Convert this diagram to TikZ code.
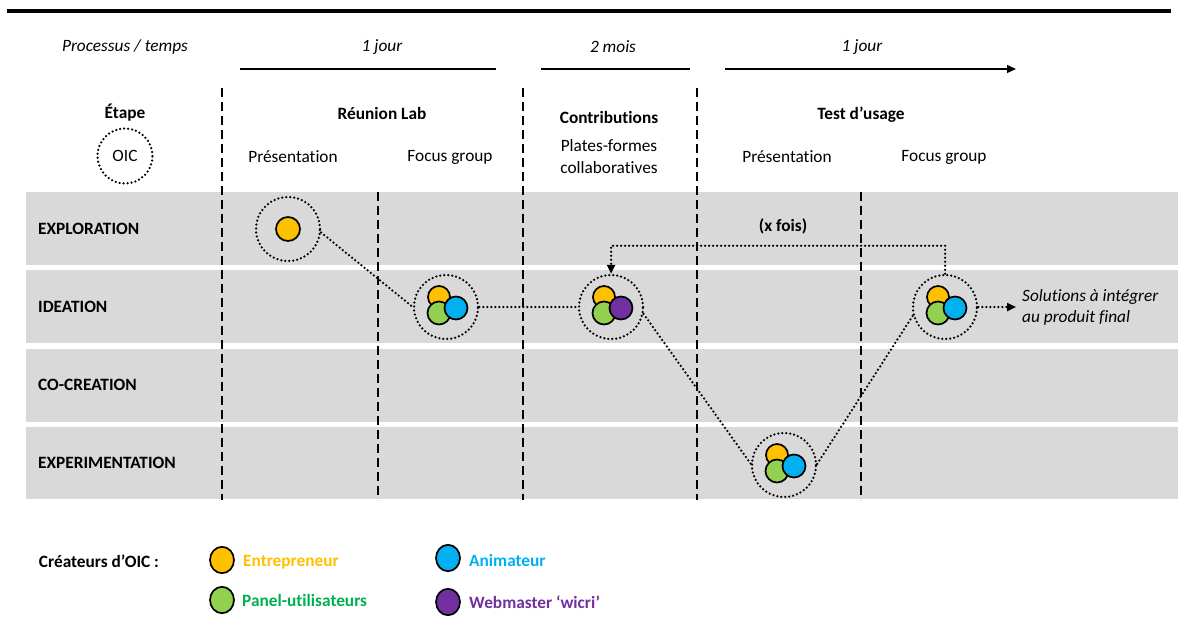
\documentclass[tikz,border=0pt]{standalone}
\usepackage{fontspec}
\setmainfont{Carlito}[Ligatures=NoCommon]
\usetikzlibrary{arrows.meta}
\definecolor{cyel}{HTML}{FFC000}
\definecolor{cgrn}{HTML}{92D050}
\definecolor{cblu}{HTML}{00B0F0}
\definecolor{cpur}{HTML}{7030A0}
\definecolor{tgrn}{HTML}{00B050}
\definecolor{band}{HTML}{D9D9D9}
\tikzset{
  txt/.style={font=\fontsize{17.3}{21}\selectfont, inner sep=0pt},
  btxt/.style={font=\fontsize{17.3}{21}\selectfont\bfseries, inner sep=0pt},
  itxt/.style={font=\fontsize{17.3}{21}\selectfont\itshape, inner sep=0pt},
  dotline/.style={line width=2.5pt, dash pattern=on 0pt off 4pt, line cap=round},
  oic/.style={circle, draw, dotline, minimum size=64pt, inner sep=0pt},
  dashv/.style={line width=1.5pt, dash pattern=on 9pt off 5pt},
  member/.style={circle, draw, line width=1.7pt, minimum size=22pt, inner sep=0pt},
  legc/.style={circle, draw, line width=1.7pt, minimum size=24pt, inner sep=0pt, yscale=1.1},
  tline/.style={line width=1.3pt},
  tip/.style={-{Triangle[length=9pt,width=8pt]}}
}
\begin{document}
\begin{tikzpicture}[x=1pt,y=-1pt]
\useasboundingbox (0,0) rectangle (1178,629);
% top rule
\coordinate (r1) at (7,11); \coordinate (r2) at (1171,11);
\draw[line width=3.6pt] (r1) -- (r2);
% bands
\foreach \t/\b in {192/265, 270/343, 349/422, 427/499}
  \fill[band] (26,\t) rectangle (1178,\b);
% time header
\node[itxt] (proc) at (125,47) {Processus / temps};
\node[itxt] (j1) at (382,47) {1 jour};
\node[itxt] (m2) at (613,47) {2 mois};
\node[itxt] (j2) at (862,47) {1 jour};
\coordinate (t1a) at (240,69); \coordinate (t1b) at (496,69);
\coordinate (t2a) at (541,69); \coordinate (t2b) at (690,69);
\coordinate (t3a) at (725,69); \coordinate (t3b) at (1016,69);
\draw[tline] (t1a) -- (t1b);
\draw[tline] (t2a) -- (t2b);
\draw[tline,tip] (t3a) -- (t3b);
% dashed separators
\foreach \x in {222,523,697} \draw[dashv] (\x,88) -- (\x,500);
\foreach \x in {378,861} \draw[dashv] (\x,192) -- (\x,500);
% column heads
\node[btxt] (etape) at (125,113) {Étape};
\node[circle, draw, dotline, minimum size=55pt, inner sep=0pt, txt] (oicleg) at (125,156) {OIC};
\node[btxt] (reunion) at (382,113) {Réunion Lab};
\node[txt] (pres1) at (293,157) {Présentation};
\node[txt] (focus1) at (450,157) {Focus group};
\node[btxt] (contrib) at (609,117) {Contributions};
\node[txt, align=center, font=\fontsize{17.3}{22}\selectfont] (plates) at (609,157) {Plates-formes\\collaboratives};
\node[btxt] (test) at (861,115) {Test d’usage};
\node[txt] (pres2) at (787,157) {Présentation};
\node[txt] (focus2) at (944,157) {Focus group};
% row labels
\node[btxt, anchor=west] (explo) at (38,229) {EXPLORATION};
\node[btxt, anchor=west] (idea) at (38,307) {IDEATION};
\node[btxt, anchor=west] (cocr) at (38,385) {CO-CREATION};
\node[btxt, anchor=west] (expe) at (38,463) {EXPERIMENTATION};
% OIC nodes
\node[oic] (A) at (288,229) {};
\node[member, fill=cyel, minimum size=24pt] (Ay) at (288,229) {};
\node[oic] (B) at (446,307) {};
\node[member, fill=cyel] (By) at (439,297) {};
\node[member, fill=cgrn, minimum size=23pt] (Bg) at (439,313) {};
\node[member, fill=cblu, minimum size=23pt] (Bb) at (456,308) {};
\node[oic] (C) at (611,307) {};
\node[member, fill=cyel] (Cy) at (604,297) {};
\node[member, fill=cgrn, minimum size=23pt] (Cg) at (604,313) {};
\node[member, fill=cpur, minimum size=23pt] (Cp) at (621,308) {};
\node[oic] (D) at (784,465) {};
\node[member, fill=cyel] (Dy) at (777,455) {};
\node[member, fill=cgrn, minimum size=23pt] (Dg) at (777,471) {};
\node[member, fill=cblu, minimum size=23pt] (Db) at (794,466) {};
\node[oic] (E) at (945,307) {};
\node[member, fill=cyel] (Ey) at (938,297) {};
\node[member, fill=cgrn, minimum size=23pt] (Eg) at (938,313) {};
\node[member, fill=cblu, minimum size=23pt] (Eb) at (955,308) {};
% connectors
\draw[dotline] (A.-6) -- (B.180);
\draw[dotline] (B.east) -- (C.west);
\draw[dotline] (C.-12) -- (D.178);
\draw[dotline] (D.2) -- (E.195);
\draw[dotline, tip] (E.north) -- ++(0,-28) -| (C.north);
\node[btxt] (xfois) at (783,226) {(x fois)};
\node[itxt, anchor=west, align=left, inner sep=0pt] (sol) at (1022,307) {Solutions à intégrer\\au produit final};
\coordinate (solin) at (1016,307);
\draw[dotline, tip] (E.east) -- (solin);
% legend
\node[btxt] (leg) at (99,561) {Créateurs d’OIC :};
\node[legc, fill=cyel] (ly) at (222,560) {};
\node[btxt, anchor=west, text=cyel] (lyt) at (243,562) {Entrepreneur};
\node[legc, fill=cgrn] (lg) at (222,600) {};
\node[btxt, anchor=west, text=tgrn] (lgt) at (242,600) {Panel-utilisateurs};
\node[legc, fill=cblu] (lb) at (448,558) {};
\node[btxt, anchor=west, text=cblu] (lbt) at (469,560) {Animateur};
\node[legc, fill=cpur] (lp) at (448,602) {};
\node[btxt, anchor=west, text=cpur] (lpt) at (469,602) {Webmaster ‘wicri’};
\end{tikzpicture}
\end{document}
